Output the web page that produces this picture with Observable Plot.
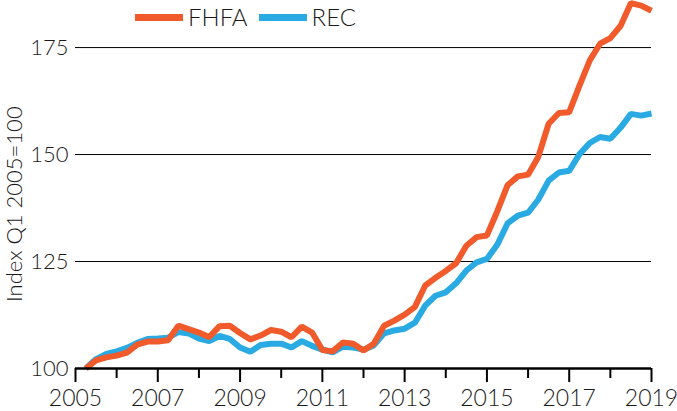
<!DOCTYPE html>
<html>
<head>
<meta charset="utf-8">
<script src="https://cdn.jsdelivr.net/npm/d3@7"></script>
<script src="https://cdn.jsdelivr.net/npm/@observablehq/plot@0.6"></script>
<style>
  html, body { margin: 0; padding: 0; background: #fff; }
  #wrap { position: relative; width: 677px; height: 411px; font-family: Lato, sans-serif; font-weight: 300; color: #1a1a1a; }
  #wrap svg text { font-weight: 300; }
  #legend { position: absolute; left: 135px; top: 5px; display: flex; align-items: center; font-size: 24px; line-height: 1; }
  #legend .sw { display: inline-block; width: 48px; height: 7px; }
  #ylabel { position: absolute; left: 3px; top: 302px; transform-origin: 0 0; transform: rotate(-90deg); white-space: nowrap; font-size: 22px; line-height: 1; }
</style>
</head>
<body>
<div id="wrap"></div>
<script>
// Quarterly house price indices, Index Q1 2005 = 100
const quarters = [
  "2005Q1","2005Q2","2005Q3","2005Q4","2006Q1","2006Q2","2006Q3","2006Q4",
  "2007Q1","2007Q2","2007Q3","2007Q4","2008Q1","2008Q2","2008Q3","2008Q4",
  "2009Q1","2009Q2","2009Q3","2009Q4","2010Q1","2010Q2","2010Q3","2010Q4",
  "2011Q1","2011Q2","2011Q3","2011Q4","2012Q1","2012Q2","2012Q3","2012Q4",
  "2013Q1","2013Q2","2013Q3","2013Q4","2014Q1","2014Q2","2014Q3","2014Q4",
  "2015Q1","2015Q2","2015Q3","2015Q4","2016Q1","2016Q2","2016Q3","2016Q4",
  "2017Q1","2017Q2","2017Q3","2017Q4","2018Q1","2018Q2","2018Q3","2018Q4"
];
const fhfa = [
  100.0, 101.9, 102.6, 103.0, 103.7, 105.6, 106.3, 106.3,
  106.6, 110.0, 109.2, 108.4, 107.3, 109.9, 110.0, 108.3,
  106.8, 107.7, 109.0, 108.6, 107.3, 109.8, 108.4, 104.3,
  104.0, 106.1, 105.8, 104.2, 105.8, 110.0, 111.2, 112.6,
  114.4, 119.4, 121.2, 122.8, 124.6, 128.7, 130.7, 131.1,
  136.7, 142.8, 144.9, 145.3, 149.5, 157.2, 159.7, 159.9,
  166.1, 172.0, 175.9, 177.2, 180.1, 185.4, 184.8, 183.6
];
const rec = [
  100.0, 102.2, 103.4, 104.0, 104.8, 106.0, 106.9, 107.0,
  107.2, 108.5, 108.2, 107.0, 106.4, 107.6, 106.9, 104.9,
  103.9, 105.5, 105.8, 105.8, 104.9, 106.4, 105.3, 104.4,
  103.8, 105.1, 104.9, 104.4, 105.4, 108.2, 108.9, 109.3,
  110.7, 114.7, 117.0, 117.8, 119.9, 122.9, 124.8, 125.6,
  128.9, 133.9, 135.7, 136.4, 139.5, 143.9, 145.8, 146.2,
  150.1, 152.7, 154.1, 153.7, 156.3, 159.5, 159.1, 159.6
];
const seriesNames = ["FHFA", "REC"];
const seriesColors = ["#f15a2b", "#2aaae2"];
const majorYears = [2005, 2007, 2009, 2011, 2013, 2015, 2017, 2019];
const minorYears = [2006, 2008, 2010, 2012, 2014, 2016, 2018];
const yTicks = [100, 125, 150, 175];
const gridTicks = [125, 150, 175];
const yLabel = "Index Q1 2005=100";

// quarter plotted at end of quarter
const toT = q => +q.slice(0, 4) + (+q.slice(5)) * 0.25;
const rows = [];
quarters.forEach((q, i) => {
  rows.push({t: toT(q), value: rec[i], series: "REC"});
});
quarters.forEach((q, i) => {
  rows.push({t: toT(q), value: fhfa[i], series: "FHFA"});
});

const chart = Plot.plot({
  width: 677,
  height: 411,
  marginLeft: 75,
  marginRight: 26,
  marginTop: 0,
  marginBottom: 43,
  style: {fontFamily: "Lato, sans-serif", fontSize: "22px", color: "#1a1a1a", overflow: "visible", background: "transparent"},
  x: {domain: [2005, 2019]},
  y: {domain: [100, 186]},
  color: {domain: seriesNames, range: seriesColors},
  marks: [
    Plot.gridY(gridTicks, {stroke: "#000", strokeOpacity: 1, strokeWidth: 1}),
    Plot.line(rows.filter(d => d.series === "REC"), {x: "t", y: "value", stroke: "series", strokeWidth: 6, strokeLinejoin: "miter", strokeLinecap: "butt"}),
    Plot.line(rows.filter(d => d.series === "FHFA"), {x: "t", y: "value", stroke: "series", strokeWidth: 6, strokeLinejoin: "miter", strokeLinecap: "butt"}),
    Plot.ruleY([100], {stroke: "#000", strokeWidth: 2.5}),
    Plot.axisX({ticks: majorYears, tickSize: 14, tickPadding: 7, tickFormat: d => String(d), strokeWidth: 2, stroke: "#000", fontSize: 23, label: null}),
    Plot.axisX({ticks: minorYears, tickSize: 10, tickFormat: () => "", strokeWidth: 2, stroke: "#000", label: null}),
    Plot.axisY({ticks: yTicks, tickSize: 0, tickPadding: 7, fontSize: 22, label: null})
  ]
});

const wrap = document.getElementById("wrap");
wrap.appendChild(chart);

const legend = document.createElement("div");
legend.id = "legend";
seriesNames.forEach((name, i) => {
  const sw = document.createElement("span");
  sw.className = "sw";
  sw.style.background = seriesColors[i];
  sw.style.marginRight = "5px";
  const tx = document.createElement("span");
  tx.textContent = name;
  tx.style.marginRight = i === 0 ? "11px" : "0";
  legend.appendChild(sw);
  legend.appendChild(tx);
});
wrap.appendChild(legend);

const yl = document.createElement("div");
yl.id = "ylabel";
yl.textContent = yLabel;
wrap.appendChild(yl);
</script>
</body>
</html>
